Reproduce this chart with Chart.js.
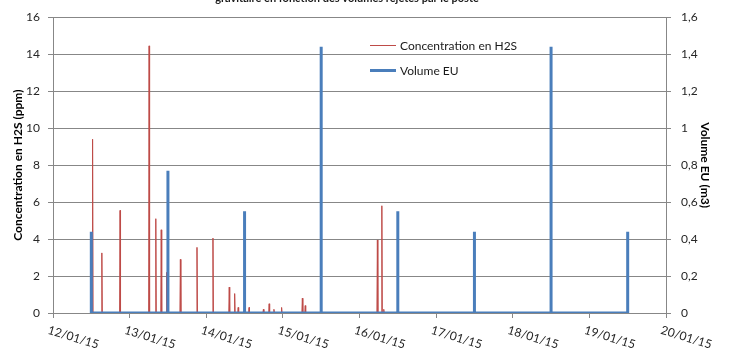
<!DOCTYPE html>
<html>
<head>
<meta charset="utf-8">
<script src="https://cdn.jsdelivr.net/npm/chart.js@4.4.0/dist/chart.umd.min.js"></script>
<style>
html,body{margin:0;padding:0;background:#fff;}
canvas{display:block;}
</style>
</head>
<body>
<canvas id="c" width="737" height="358"></canvas>
<script>
// ---- data (hours since 12/01/15 00:00) ----
const titleText = 'gravitaire en fonction des volumes rejetés par le poste';
const dayLabels = ['12/01/15','13/01/15','14/01/15','15/01/15','16/01/15','17/01/15','18/01/15','19/01/15','20/01/15'];
const h2sLabel = 'Concentration en H2S';
const volLabel = 'Volume EU';

const h2sHours = [
  12,
  12.25, 12.4, 12.55,
  15.15, 15.3, 15.45,
  20.85, 21.0, 21.15,
  29.95, 30.1, 30.25,
  32.05, 32.2, 32.35,
  33.75, 33.9, 34.05,
  35.45, 35.6, 35.75,
  39.75, 39.9, 40.05,
  44.95, 45.1, 45.25,
  49.95, 50.1, 50.25,
  55.05, 55.2, 55.35,
  56.75, 56.9, 57.05,
  57.85, 58.0, 58.15,
  61.25, 61.4, 61.55,
  65.75, 65.9, 66.05,
  67.55, 67.7, 67.85,
  69.05, 69.2, 69.35,
  71.45, 71.6, 71.75,
  77.95, 78.1, 78.25,
  78.85, 79.0, 79.15,
  101.45, 101.6, 101.75,
  102.85, 103.0, 103.15,
  103.45, 103.6, 103.75,
  180
];
const h2sValues = [
  0,
  0, 9.4, 0,
  0, 3.25, 0,
  0, 5.55, 0,
  0, 14.45, 0,
  0, 5.1, 0,
  0, 4.5, 0,
  0, 2.2, 0,
  0, 2.9, 0,
  0, 3.55, 0,
  0, 4.05, 0,
  0, 1.4, 0,
  0, 1.05, 0,
  0, 0.3, 0,
  0, 0.3, 0,
  0, 0.2, 0,
  0, 0.5, 0,
  0, 0.2, 0,
  0, 0.3, 0,
  0, 0.8, 0,
  0, 0.4, 0,
  0, 3.95, 0,
  0, 5.8, 0,
  0, 0.2, 0,
  0
];

const volHours = [12, 12, 36, 36, 36, 60, 60, 60, 84, 84, 84, 108, 108, 108, 132, 132, 132, 156, 156, 156, 180, 180, 180];
const volValues = [0.44, 0, 0, 0.77, 0, 0, 0.55, 0, 0, 1.44, 0, 0, 0.55, 0, 0, 0.44, 0, 0, 1.44, 0, 0, 0.44, 0];

const toPts = (xs, ys) => xs.map((x, i) => ({x: x, y: ys[i]}));

const GRID = '#878787';
const RED = '#BE4B48';
const BLUE = '#4A7EBB';
const FONT = 'Lato, "Open Sans", sans-serif';

const extras = {
  id: 'extras',
  afterDraw(chart) {
    const ctx = chart.ctx;
    const xs = chart.scales.x;
    ctx.save();
    // x labels, rotated clockwise, starting at tick
    ctx.fillStyle = '#262626';
    ctx.font = '12px ' + FONT;
    ctx.textAlign = 'left';
    ctx.textBaseline = 'top';
    xs.ticks.forEach((t, i) => {
      const px = xs.getPixelForValue(t.value);
      ctx.save();
      ctx.translate(px - 3, 324);
      ctx.rotate(17 * Math.PI / 180);
      ctx.fillText(dayLabels[i], 0, 0);
      ctx.restore();
    });
    // legend
    ctx.lineCap = 'butt';
    ctx.strokeStyle = RED; ctx.lineWidth = 1;
    ctx.beginPath(); ctx.moveTo(370, 45.5); ctx.lineTo(396, 45.5); ctx.stroke();
    ctx.strokeStyle = BLUE; ctx.lineWidth = 3;
    ctx.beginPath(); ctx.moveTo(370, 70.5); ctx.lineTo(396, 70.5); ctx.stroke();
    ctx.fillStyle = '#1a1a1a';
    ctx.textBaseline = 'middle';
    ctx.fillText(h2sLabel, 400, 46);
    ctx.fillText(volLabel, 400, 71);
    // cut title at top
    ctx.font = 'bold 11px ' + FONT;
    ctx.textAlign = 'center';
    ctx.textBaseline = 'alphabetic';
    ctx.fillText(titleText, 347, 2);
    ctx.restore();
  }
};

new Chart(document.getElementById('c'), {
  type: 'line',
  data: {
    datasets: [
      {
        label: h2sLabel,
        data: toPts(h2sHours, h2sValues),
        yAxisID: 'y',
        borderColor: RED,
        borderWidth: 1,
        pointRadius: 0,
        tension: 0,
        fill: false,
        order: 1
      },
      {
        label: volLabel,
        data: toPts(volHours, volValues),
        yAxisID: 'y1',
        borderColor: BLUE,
        borderWidth: 3,
        borderJoinStyle: 'bevel',
        pointRadius: 0,
        tension: 0,
        fill: false,
        order: 0
      }
    ]
  },
  options: {
    responsive: false,
    animation: false,
    layout: {padding: {top: 16, left: 0, right: 0, bottom: 0}},
    plugins: {legend: {display: false}, tooltip: {enabled: false}, title: {display: false}},
    scales: {
      x: {
        type: 'linear',
        min: 0, max: 192,
        afterFit: s => { s.height = 45; },
        ticks: {stepSize: 24, color: 'rgba(0,0,0,0)', maxRotation: 0, autoSkip: false,
          callback: (v, i) => dayLabels[i]},
        grid: {drawOnChartArea: false, color: GRID, tickLength: 5, tickColor: GRID},
        border: {color: GRID}
      },
      y: {
        position: 'left',
        min: 0, max: 16,
        afterFit: s => { s.width = 53; },
        ticks: {stepSize: 2, color: '#262626', font: {family: FONT, size: 12}, padding: 8},
        grid: {color: GRID, tickLength: 5, tickColor: GRID},
        border: {color: GRID},
        title: {display: true, text: 'Concentration en H2S (ppm)', color: '#000',
          font: {family: FONT, size: 12, weight: 'bold'}, padding: {top: 11, bottom: 0}}
      },
      y1: {
        position: 'right',
        min: 0, max: 1.6,
        afterFit: s => { s.width = 71; },
        ticks: {stepSize: 0.2, color: '#262626', font: {family: FONT, size: 12}, padding: 10,
          callback: v => (Math.round(v * 10) / 10).toString().replace('.', ',')},
        grid: {drawOnChartArea: false, color: GRID, tickLength: 5, tickColor: GRID},
        border: {color: GRID},
        title: {display: true, text: 'Volume EU (m3)', color: '#000',
          font: {family: FONT, size: 12, weight: 'bold'}, padding: {top: 25, bottom: 0}}
      }
    }
  },
  plugins: [extras]
});
</script>
</body>
</html>
